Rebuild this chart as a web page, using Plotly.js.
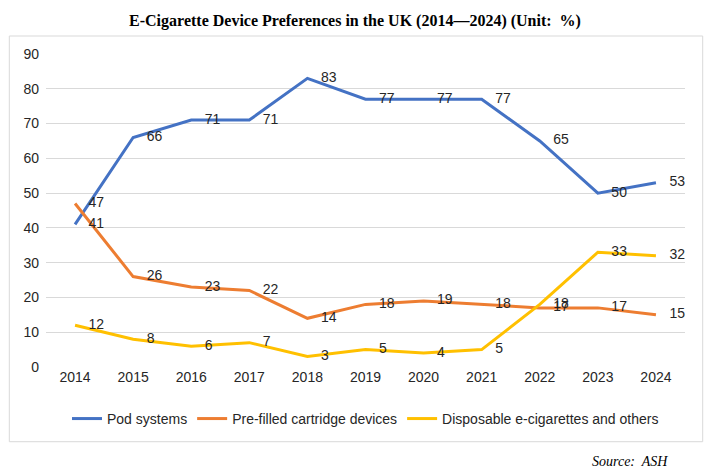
<!DOCTYPE html>
<html>
<head>
<meta charset="utf-8">
<script src="https://cdn.plot.ly/plotly-3.0.1.min.js"></script>
<style>
  body { margin: 0; background: #fff; }
  #chart { width: 710px; height: 474px; }
</style>
</head>
<body>
<div id="chart"></div>
<script>
// years and shares (%)
var years = ['2014','2015','2016','2017','2018','2019','2020','2021','2022','2023','2024'];
var podList = [41, 66, 71, 71, 83, 77, 77, 77, 65, 50, 53];
var prefilledList = [47, 26, 23, 22, 14, 18, 19, 18, 17, 17, 15];
var disposableList = [12, 8, 6, 7, 3, 5, 4, 5, 18, 33, 32];
var yTicks = [0, 10, 20, 30, 40, 50, 60, 70, 80, 90];

var txtFont = {family: 'Liberation Sans, Arial, sans-serif', size: 14, color: '#262626'};

function lineTrace(vals, name, color) {
    return {
        x: years,
        y: vals,
        name: name,
        mode: 'lines',
        line: {color: color, width: 3},
        hoverinfo: 'x+y'
    };
}

// value labels sit to the right of each point
function labelTrace(vals) {
    return {
        x: years,
        y: vals,
        mode: 'markers+text',
        text: vals.map(String),
        textposition: 'middle right',
        textfont: txtFont,
        marker: {size: 20, opacity: 0},
        cliponaxis: false,
        showlegend: false,
        hoverinfo: 'skip'
    };
}

var data = [
    lineTrace(podList, 'Pod systems', '#4472C4'),
    lineTrace(prefilledList, 'Pre-filled cartridge devices', '#ED7D31'),
    lineTrace(disposableList, 'Disposable e-cigarettes and others', '#FFC000'),
    labelTrace(podList),
    labelTrace(prefilledList),
    labelTrace(disposableList)
];

var layout = {
    width: 710,
    height: 474,
    margin: {l: 46, r: 25, t: 54, b: 107},
    paper_bgcolor: '#ffffff',
    plot_bgcolor: '#ffffff',
    font: txtFont,
    title: {
        text: '<b>E-Cigarette Device Preferences in the UK (2014\u20142024) (Unit:  %)</b>',
        font: {family: 'Liberation Serif, Times New Roman, serif', size: 16, color: '#000'},
        x: 0.5, xanchor: 'center',
        y: 0.958, yanchor: 'middle'
    },
    xaxis: {
        type: 'category',
        range: [-0.5, 10.5],
        showgrid: false,
        zeroline: false,
        showline: false,
        ticks: '',
        tickfont: txtFont,
        fixedrange: true
    },
    yaxis: {
        range: [0, 90],
        tickvals: yTicks,
        showgrid: true,
        gridcolor: '#d9d9d9',
        gridwidth: 1,
        zeroline: false,
        showline: false,
        ticks: '',
        ticklabelstandoff: 6,
        tickfont: txtFont,
        fixedrange: true
    },
    showlegend: true,
    legend: {
        orientation: 'h',
        x: 0.5, xanchor: 'center',
        y: -0.166, yanchor: 'middle',
        font: txtFont,
        traceorder: 'normal'
    },
    shapes: [{
        type: 'rect',
        xref: 'paper', yref: 'paper',
        x0: -0.0574, x1: 1.0277,
        y0: -0.2387, y1: 1.0575,
        line: {color: '#d9d9d9', width: 1},
        fillcolor: 'rgba(0,0,0,0)',
        layer: 'below'
    }],
    annotations: [{
        text: '<i>Source:  ASH</i>',
        xref: 'paper', yref: 'paper',
        x: 0.9765, xanchor: 'right',
        y: -0.3035, yanchor: 'middle',
        showarrow: false,
        font: {family: 'Liberation Serif, Times New Roman, serif', size: 14, color: '#000'}
    }]
};

Plotly.newPlot('chart', data, layout, {displayModeBar: false, staticPlot: true});
</script>
</body>
</html>
